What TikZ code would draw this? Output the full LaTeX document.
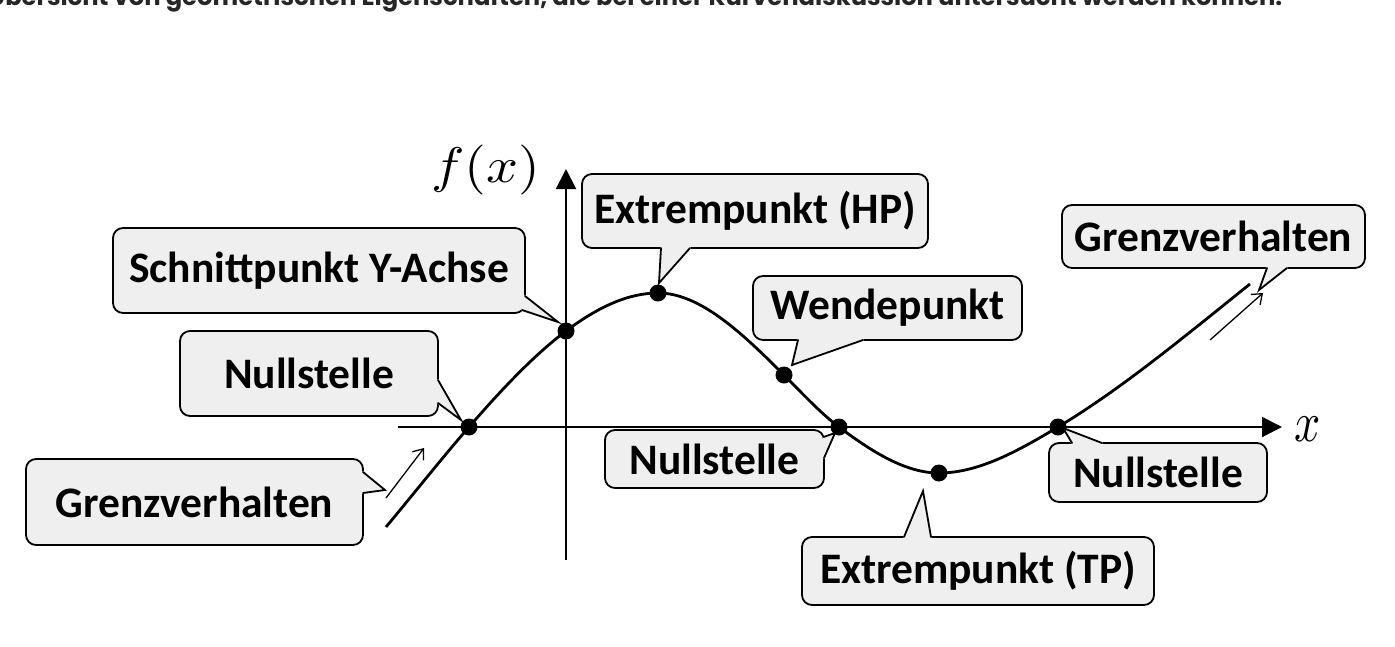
\documentclass[tikz,border=0pt]{standalone}
\usepackage{fontspec}
\usepackage{graphicx}
\newfontfamily\boxfont{Carlito}
\newfontfamily\titlefont{Poppins}
\usetikzlibrary{arrows.meta,calc}
\definecolor{boxfill}{HTML}{EFEFEF}
\definecolor{titlegray}{HTML}{262626}
\tikzset{
  bubble/.style={draw=black, line width=1.8pt, fill=boxfill, rounded corners=10pt,
    inner sep=0pt, font=\boxfont\bfseries\fontsize{43.5}{52}\selectfont, text=black},
  tailline/.style={draw=black, line width=1.8pt, line join=miter, line cap=round},
  tailcover/.style={fill=boxfill, draw=boxfill, line width=1.8pt, line join=round},
  dot/.style={circle, fill=black, inner sep=0pt, minimum size=17pt},
  curveline/.style={line width=2.8pt},
  axisline/.style={line width=2pt, -{Triangle[length=20pt,width=20pt]}},
  trend/.style={line width=1.3pt, -{Straight Barb[length=9pt,width=14pt]}},
  mathlabel/.style={inner sep=0pt}
}
\newcommand\calltail[3]{%
  \filldraw[tailcover] (#1) -- (#2) -- (#3) -- cycle;
  \draw[tailline] (#1) -- (#2) -- (#3);}
\begin{document}
\begin{tikzpicture}[x=1pt,y=-1pt]
\useasboundingbox (0,0) rectangle (1395,646);
\clip (0,0) rectangle (1395,646);
\fill[white] (0,0) rectangle (1395,646);

% title (cut off at the top)
\node[anchor=base west, inner sep=0pt, text=titlegray] (title) at (-12,5)
  {\resizebox{1294pt}{!}{\titlefont\bfseries Übersicht von geometrischen Eigenschaften, die bei einer Kurvendiskussion untersucht werden können.}};

% key points
\coordinate (cL) at (386,527);
\coordinate (n1) at (469,427);
\coordinate (sy) at (566,331);
\coordinate (hp) at (658,293);
\coordinate (wp) at (784,375);
\coordinate (n2) at (839,427);
\coordinate (tp) at (939,473);
\coordinate (n3) at (1058,427);
\coordinate (cR) at (1250,284);

% axes
\coordinate (xs) at (398,427);
\coordinate (xe) at (1282,427);
\coordinate (ys) at (566,560);
\coordinate (ye) at (566,169);
\draw[axisline] (xs) -- (xe);
\draw[axisline] (ys) -- (ye);
\node[mathlabel, xscale=5.6, yscale=5] (fx) at (486,170) {$f(x)$};
\node[mathlabel, xscale=4.6, yscale=5.7] (xl) at (1308,429.5) {$x$};

% curve
\draw[curveline] (cL)
  .. controls (413.7,493.8) and (441.3,458.8) .. (n1)
  .. controls (501.3,389.8) and (533.7,355.3) .. (sy)
  .. controls (596.7,308) and (627.3,293) .. (hp)
  .. controls (700,293) and (742,333) .. (wp)
  .. controls (802.3,393.3) and (820.7,413.3) .. (n2)
  .. controls (872.3,452) and (905.7,473) .. (tp)
  .. controls (978.7,473) and (1018.3,450.8) .. (n3)
  .. controls (1122,388.6) and (1186,335.2) .. (cR);

% trend arrows
\coordinate (g1s) at (386,498);
\coordinate (g1e) at (424,448);
\coordinate (g2s) at (1210,340);
\coordinate (g2e) at (1263,293);
\draw[trend] (g1s) -- (g1e);
\draw[trend] (g2s) -- (g2e);

% callouts
\node[bubble, minimum width=412pt, minimum height=85pt] (bsy) at (319,270.5) {Schnittpunkt Y-Achse};
\calltail{525,296}{558,322}{522,310}
\node[bubble, minimum width=258pt, minimum height=85pt] (bn1) at (309,373.5) {Nullstelle};
\calltail{438,380}{461,420}{438,403}
\node[bubble, minimum width=337pt, minimum height=86pt] (bg1) at (194.5,502) {Grenzverhalten};
\calltail{363,472}{385,490}{363,493}
\node[bubble, minimum width=346pt, minimum height=74pt] (bhp) at (755,211) {Extrempunkt (HP)};
\calltail{661,248}{659,283}{690,248}
\node[bubble, minimum width=269pt, minimum height=64pt] (bwp) at (887.5,308) {Wendepunkt};
\calltail{798,340}{792,365}{863,340}
\node[bubble, minimum width=219pt, minimum height=58pt] (bn2) at (714.5,459) {Nullstelle};
\calltail{823.5,437}{835,433}{824,458}
\node[bubble, minimum width=352pt, minimum height=68pt] (btp) at (978,571) {Extrempunkt (TP)};
\calltail{904,537}{923,491}{931,537}
\node[bubble, minimum width=218pt, minimum height=59pt] (bn3) at (1158,472.5) {Nullstelle};
\calltail{1072,443}{1063,428}{1102,443}
\node[bubble, minimum width=303pt, minimum height=63pt] (bg2) at (1213.5,236.5) {Grenzverhalten};
\calltail{1267,268}{1259,290}{1287,268}

% dots
\node[dot] (dn1) at (n1) {};
\node[dot] (dsy) at (sy) {};
\node[dot] (dhp) at (hp) {};
\node[dot] (dwp) at (wp) {};
\node[dot] (dn2) at (n2) {};
\node[dot] (dtp) at (tp) {};
\node[dot] (dn3) at (n3) {};
\end{tikzpicture}
\end{document}
